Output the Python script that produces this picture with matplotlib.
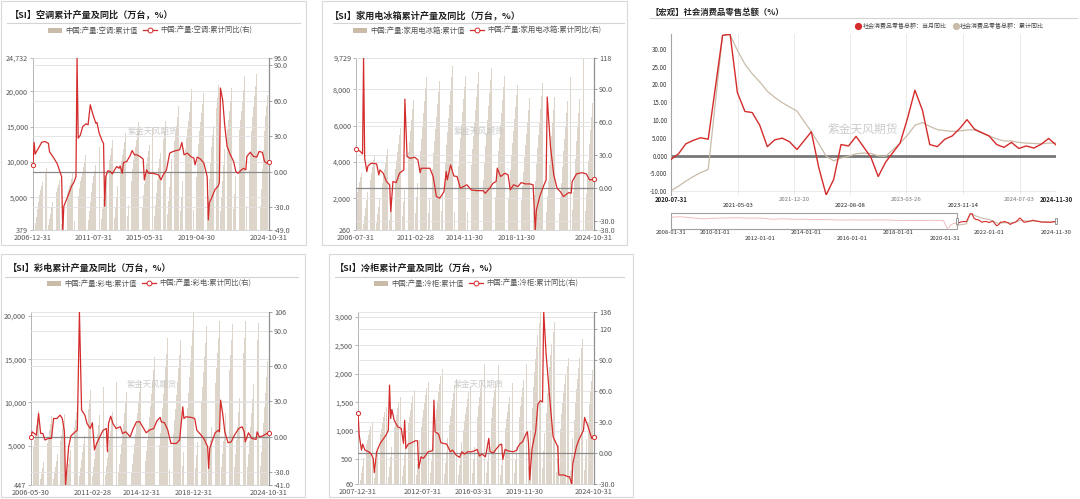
import numpy as np
import pandas as pd
import matplotlib
matplotlib.use("Agg")
import matplotlib.pyplot as plt
import matplotlib.dates as mdates
import matplotlib.transforms as mtransforms
from matplotlib.patches import Rectangle, Patch
from matplotlib.lines import Line2D

plt.rcParams['font.family'] = ['Noto Sans CJK SC', 'DejaVu Sans']
plt.rcParams['axes.unicode_minus'] = False

W, H = 1080, 499
RED = '#d42b2b'
BAR = '#ddd5ca'
BAR_LEG = '#c9bba8'
BEIGE = '#c9bca9'
GRID = '#e2e2e2'
TXT = '#555555'

# ---------------- data ----------------
MONTHS = list(range(2, 13))  # Feb..Dec (Jan merged into Feb)

# Panel 1: air conditioners
ac_years = list(range(2007, 2024))
ac_totals = [9130, 7470, 8420, 11020, 12200, 13150, 14100, 15600, 14800, 15750,
             17970, 20330, 21750, 20950, 20480, 22130, 24732]
ac_last_oct = 20950
ac_profile = [0.15, 0.25, 0.36, 0.47, 0.58, 0.66, 0.72, 0.78, 0.84, 0.91, 1.0]
ac_yoy_m = [0, 1, 2, 5, 8, 11, 14, 15, 19, 22, 26, 27, 28, 31, 35, 37, 39, 40, 41, 43,
            45, 48, 50, 52, 54, 57, 58, 60, 63, 64, 65, 66, 68, 70, 72, 74, 76, 78, 79, 81,
            82, 85, 88, 90, 92, 94, 97, 100, 101, 103, 105, 108, 111, 114, 116, 118, 121, 124, 127, 130,
            133, 135, 137, 140, 143, 146, 147, 149, 152, 155, 158, 159, 160, 162, 165, 168, 169, 170, 172, 174,
            176, 179, 182, 184, 186, 189, 191, 193, 194, 197, 200, 203, 205, 208, 210, 212, 214]
ac_yoy_v = [5.9, 24.8, 15, 20, 25, 25.6, 24, 17, 11.5, 6.8, -4, -49, -29, -22, -12, -9, -4, 96, 28.4, 31,
            38, 40.5, 39.7, 56.6, 49.5, 41, 41.7, 32.7, 25.6, 24, -29, -4, 1, 0.3, -1.7, 1.7, 4.5, 3, 5, -1.2,
            7.9, 8.7, 13.5, 18, 14.4, 14.4, 13, 10.7, -6.8, 1.7, -1.2, -1.2, -1.7, -2.6, -6.8, -2.6, 1.7, 15.8, 17.2, 18,
            18.6, 24.8, 14.4, 15.8, 13, 11.5, 6, 12.5, 10.7, 7.3, -4, -40.5, -26, -22, -15, -11.8, -9, 70.7, 60.8, 38.3,
            21.4, 14.4, 8.7, 0.3, -1.2, 1.7, 3, 1.7, 13, 16.5, 13, 12.5, 17.2, 16.5, 8.7, 7.3, 8]

# Panel 2: household refrigerators
fr_years = list(range(2006, 2024))
fr_totals = [3400, 4400, 4700, 5900, 7430, 8680, 8440, 9310, 8760, 8940, 9180, 8720,
             8260, 8075, 9000, 8940, 8680, 9729]
fr_last_oct = 8000
fr_profile = [0.14, 0.24, 0.33, 0.43, 0.53, 0.61, 0.69, 0.77, 0.85, 0.93, 1.0]
fr_yoy_m = [0, 4, 6, 7, 8, 10, 11, 14, 19, 21, 22, 25, 28, 31, 32, 34, 37, 40, 44, 45,
            47, 50, 54, 57, 59, 60, 63, 68, 71, 74, 77, 81, 83, 84, 87, 90, 93, 96, 102, 106,
            111, 117, 119, 123, 126, 129, 130, 133, 137, 140, 142, 145, 149, 152, 156, 160, 163, 165, 166, 169,
            173, 175, 176, 179, 182, 185, 188, 191, 194, 196, 198, 199, 203, 208, 212, 215, 219]
fr_yoy_v = [35.6, 33.2, 31, 118, 27, 15, 20, 22.6, 22, 12, 16.5, 13.5, 6, 3, -21.3, 6, 5, 13.5, 16.5, 80.7,
            28.6, 27, 28, 25.6, 14, 18, 18, 18, 10.5, -7.7, -9.2, -3.2, 15, 7.4, 21, 11, 10.5, -0.1, 3, -1.6,
            -2.3, -2.3, -4.7, -0.1, 4.4, 6, 18, 10.5, 13.5, 12, -1.6, 3, 1.4, 5, 3.8, 3.8, 3, -38, -20, -7.7,
            3, 7.4, 82.6, 37.7, 12, -0.1, -3.2, -7.7, -5.3, -4, -4.7, 6, 12.9, 14, 12.9, 7.4, 8]

# Panel 4: colour TV sets
tv_years = list(range(2006, 2024))
tv_totals = [9000, 8400, 8700, 9900, 11400, 11800, 12400, 13900, 13900, 15300, 17400, 17200,
             20465, 18800, 19400, 19100, 19400, 19200]
tv_last_oct = 16600
tv_profile = [0.13, 0.21, 0.29, 0.37, 0.46, 0.54, 0.63, 0.72, 0.81, 0.90, 1.0]
tv_yoy_m = [0, 1, 3, 5, 7, 9, 11, 13, 16, 19, 21, 24, 27, 29, 31, 32, 35, 37, 41, 43,
            45, 47, 50, 52, 55, 57, 59, 61, 64, 67, 70, 71, 72, 74, 76, 79, 83, 85, 88, 92,
            95, 98, 101, 104, 107, 110, 114, 117, 120, 121, 124, 127, 130, 135, 138, 141, 142, 144, 149, 152,
            154, 158, 161, 164, 165, 166, 171, 174, 175, 176, 178, 180, 183, 186, 189, 193, 196, 198, 199, 202,
            205, 209, 210, 212, 215, 219, 221]
tv_yoy_v = [0, 4.2, 2.8, 1.4, 19.8, 2.8, 2.8, -2.8, -1.4, -1.4, 15.5, 15.5, 18.4, 15.5, 4.2, -41, -8.5, 0.6, 4.2, 5.6,
            106, 22.6, 18.4, 11.3, 7, 11.9, -11.3, -5.7, 0, 5.6, 7, -12.7, 11.3, 17.5, 11.3, 7, 8.5, 2.8, 4.2, 0,
            7, 12.7, 12.7, 7.9, 3.4, 5.6, 7, 13.6, 16.4, 12.7, 11.9, 5.6, -5.7, -5.7, -2.8, 25.4, 15.5, 17, 16.4, 15.5,
            5.6, 1.4, -2.3, -8.5, -26.9, -9.9, 3.4, 5.6, 4.2, 31.1, 19.8, 4.2, -5.1, -4.3, 1.4, 7, 8.5, 4.2, -4.3, 3.4,
            -1.4, -2.3, 4.2, 0, 0.6, 2.8, 3.4]

# Panel 5: freezers
fz_years = list(range(2008, 2024))
fz_totals = [1155, 1420, 1600, 1710, 1860, 2090, 1915, 1780, 2180, 2150, 1830, 2180,
             3088, 2910, 2270, 2620]
fz_last_oct = 2240
fz_profile = [0.12, 0.22, 0.33, 0.45, 0.57, 0.66, 0.73, 0.80, 0.87, 0.94, 1.0]
fz_yoy_m = [0, 1, 3, 4, 6, 9, 11, 13, 14, 16, 19, 21, 24, 26, 27, 28, 29, 31, 34, 37,
            39, 40, 41, 43, 46, 49, 51, 52, 54, 56, 58, 60, 63, 64, 65, 66, 69, 71, 76, 79,
            81, 84, 87, 89, 91, 94, 97, 100, 102, 104, 106, 109, 110, 112, 113, 116, 118, 120, 121, 123,
            124, 126, 127, 129, 133, 136, 137, 139, 141, 144, 145, 146, 147, 149, 151, 152, 154, 156, 158, 159,
            161, 164, 167, 171, 172, 176, 180, 181, 183, 184, 187, 189, 193, 194, 197, 200, 202]
fz_yoy_v = [38.7, 17.2, 2.7, 8.5, 2.7, 1.1, -0.5, -5.3, -19, 1.1, 9.2, 12.4, 17.2, 22, 65.4, 33.2, 41.9, 31.6, 25.2, 23.6,
            9.2, 31.6, 4.3, 8.5, 9.8, 11.7, 11.7, -14.9, -3.7, -5.3, -2.1, 1.1, 1.8, 2.7, 50.9, 20.4, 18.2, 9.8, 8.5, 1.1,
            2.7, -2.1, -4.3, 1.1, -1.1, 1.1, 1.1, 2.1, 3.4, -3.0, -1.1, -3.7, 1.1, 14, 1.1, 0.2, 3.4, 6, 7.6, 8.5,
            -6.2, 3.4, 2.7, 1.8, 1.1, 2.7, 6, 9.2, 10.8, 18.8, 20.4, 9.2, -26, 4.3, 15.6, 20.4, 47, 50.3, 49.3, 136,
            95.9, 54.1, 15.6, 6, -21.3, -21.3, -23, -23, -30, -10.1, 6, 12.4, 22, 34.2, 25.2, 14, 15]

# Panel 3: retail sales of consumer goods (%)
rs_dates = ['2020-07', '2020-08', '2020-09', '2020-10', '2020-11', '2020-12',
            '2021-02', '2021-03', '2021-04', '2021-05', '2021-06', '2021-07', '2021-08', '2021-09', '2021-10', '2021-11', '2021-12',
            '2022-02', '2022-03', '2022-04', '2022-05', '2022-06', '2022-07', '2022-08', '2022-09', '2022-10', '2022-11', '2022-12',
            '2023-02', '2023-03', '2023-04', '2023-05', '2023-06', '2023-07', '2023-08', '2023-09', '2023-10', '2023-11', '2023-12',
            '2024-02', '2024-03', '2024-04', '2024-05', '2024-06', '2024-07', '2024-08', '2024-09', '2024-10', '2024-11']
rs_month = [-1.1, 0.5, 3.3, 4.3, 5.0, 4.6,
            33.8, 34.2, 17.7, 12.4, 12.1, 8.5, 2.5, 4.4, 4.9, 3.9, 1.7,
            6.7, -3.5, -11.1, -6.7, 3.1, 2.7, 5.4, 2.5, -0.5, -5.9, -1.8,
            3.5, 10.6, 18.4, 12.7, 3.1, 2.5, 4.6, 5.5, 7.6, 10.1, 7.4,
            5.5, 3.1, 2.3, 3.7, 2.0, 2.7, 2.1, 3.2, 4.8, 3.0]
rs_cum = [-9.9, -8.6, -7.2, -5.9, -4.8, -3.9,
          33.8, 33.9, 29.6, 25.7, 23.0, 20.7, 18.1, 16.4, 14.9, 13.7, 12.5,
          6.7, 3.3, -0.2, -1.5, -0.7, -0.2, 0.5, 0.7, 0.6, -0.1, -0.2,
          3.5, 5.8, 8.5, 9.3, 8.2, 7.3, 7.0, 6.8, 6.9, 7.2, 7.2,
          5.5, 4.7, 4.1, 4.1, 3.7, 3.5, 3.4, 3.3, 3.5, 3.5]
rs_hist_dates = ['2008-01', '2008-06', '2008-12', '2009-06', '2009-12', '2010-06', '2010-12', '2011-06', '2011-12',
                 '2012-06', '2012-12', '2013-06', '2013-12', '2014-06', '2014-12', '2015-06', '2015-12', '2016-06',
                 '2016-12', '2017-06', '2017-12', '2018-06', '2018-12', '2019-06', '2019-12', '2020-02', '2020-03',
                 '2020-04', '2020-05', '2020-06', '2020-07']
rs_hist_vals = [21.2, 23.0, 19.0, 15.0, 17.5, 18.3, 19.1, 17.7, 18.1, 13.7, 15.2, 13.3, 13.6, 12.4, 11.9, 10.6, 11.1,
                10.6, 10.9, 11.0, 9.4, 9.0, 8.2, 9.8, 8.0, -20.5, -15.8, -7.5, -2.8, -1.8, -1.1]
rs_xticks = ['2020-07-31', '2021-05-03', '2021-12-20', '2022-08-08', '2023-03-26', '2023-11-14', '2024-07-03', '2024-11-30']
rs_slider_ticks = ['2008-01-31', '2010-01-01', '2012-01-01', '2014-01-01', '2016-01-01', '2018-01-01',
                   '2020-01-31', '2022-01-01', '2024-11-30']

# ---------------- helpers ----------------
fig = plt.figure(figsize=(W / 100, H / 100), dpi=100)
fig.patch.set_facecolor('white')


def frac(l, t, r, b):
    return [l / W, 1 - b / H, (r - l) / W, (b - t) / H]


def fxy(x, y):
    return x / W, 1 - y / H


def month_end(y, m):
    return pd.Timestamp(year=y, month=m, day=1) + pd.offsets.MonthEnd(0)


def build_bars(years, totals, profile, first, last_year, last_cum, last_month=10):
    d, v = [], []
    start = pd.Timestamp(first)
    for y, t in zip(years, totals):
        for k, m in enumerate(MONTHS):
            de = month_end(y, m)
            if de >= start:
                d.append(de)
                v.append(t * profile[k])
    base = last_cum / profile[MONTHS.index(last_month)]
    for k, m in enumerate(MONTHS):
        if m <= last_month:
            d.append(month_end(last_year, m))
            v.append(base * profile[k])
    return d, v


def offs_to_dates(start, offs):
    s = pd.Timestamp(start)
    return [(s + pd.DateOffset(months=int(o))) + pd.offsets.MonthEnd(0) for o in offs]


def frame(l, t, r, b):
    fig.patches.append(Rectangle(fxy(l, b), (r - l) / W, (b - t) / H, transform=fig.transFigure,
                                 fill=False, edgecolor='#d9d9d9', lw=0.8))


def title(x, y, s, x0, x1, yl, size=6.6):
    fig.text(*fxy(x, y), s, fontsize=size, fontweight='bold', color='#222222', ha='left', va='center')
    fig.add_artist(Line2D([x0 / W, x1 / W], [1 - yl / H, 1 - yl / H], transform=fig.transFigure,
                          color='#d3d3d3', lw=0.8))


def watermark(x, y, size=6.0):
    fig.text(*fxy(x, y), '紫金天风期货', fontsize=size, color='#c4c4c4', ha='center', va='center',
             alpha=0.85, zorder=20)


def bar_line_panel(rect, bars, line, ylim_l, yt_l, yl_l, ylim_r, yt_r, yl_r, xr, xt, xl,
                   leg_xy, leg_labels):
    ax = fig.add_axes(frac(*rect))
    ax2 = ax.twinx()
    ax.bar(bars[0], bars[1], width=24, color=BAR, linewidth=0, zorder=1)
    for t in yt_l:
        ax.axhline(t, color=GRID, lw=0.6, zorder=2)
    for t in yt_r:
        if t == 0:
            ax2.axhline(0, color='#8a8a8a', lw=0.9, zorder=1)
        else:
            ax2.axhline(t, color=GRID, lw=0.6, zorder=1)
    ax2.plot(line[0], line[1], color=RED, lw=0.9, zorder=3)
    ax2.plot([line[0][0], line[0][-1]], [line[1][0], line[1][-1]], 'o', ms=3, mfc='white',
             mec=RED, mew=0.7, zorder=4, clip_on=False)
    ax.set_xlim(pd.Timestamp(xr[0]), pd.Timestamp(xr[1]))
    ax.set_ylim(*ylim_l)
    ax2.set_ylim(*ylim_r)
    ax.set_yticks(yt_l)
    ax.set_yticklabels(yl_l)
    ax2.set_yticks(yt_r)
    ax2.set_yticklabels(yl_r)
    ax.set_xticks([pd.Timestamp(d) for d in xt])
    ax.set_xticklabels(xl)
    for a in (ax, ax2):
        for s in a.spines.values():
            s.set_visible(False)
    ax.spines['left'].set_visible(True)
    ax.spines['left'].set_color('#b5b5b5')
    ax.spines['left'].set_linewidth(0.7)
    ax.spines['bottom'].set_visible(True)
    ax.spines['bottom'].set_color('#d0d0d0')
    ax.spines['bottom'].set_linewidth(0.6)
    ax2.spines['right'].set_visible(True)
    ax2.spines['right'].set_color('#909090')
    ax2.spines['right'].set_linewidth(0.9)
    ax.tick_params(axis='y', length=2.5, width=0.6, color='#aaaaaa', labelsize=5.2, labelcolor=TXT, pad=1)
    ax2.tick_params(axis='y', length=2.5, width=0.6, color='#909090', labelsize=5.2, labelcolor=TXT, pad=1)
    ax.tick_params(axis='x', length=0, labelsize=5.3, labelcolor=TXT, pad=3)
    handles = [Patch(facecolor=BAR_LEG, edgecolor='none'),
               Line2D([], [], color=RED, lw=0.9, marker='o', ms=3.5, mfc='white', mec=RED, mew=0.7)]
    fig.legend(handles, leg_labels, loc='center', bbox_to_anchor=fxy(*leg_xy), ncol=2, frameon=False,
               fontsize=5.3, handlelength=1.9, handleheight=0.7, handletextpad=0.4, columnspacing=0.8,
               labelcolor=TXT, borderpad=0, borderaxespad=0)
    return ax, ax2


# ---------------- panel frames & titles ----------------
frame(1, 1, 306, 245)
frame(322, 1, 627, 245)
frame(1, 254, 305, 497)
frame(329, 254, 633, 497)

title(10, 14, '【SI】空调累计产量及同比（万台，%）', 7, 300, 23)
title(330, 15, '【SI】家用电冰箱累计产量及同比（万台，%）', 333, 624, 23)
title(650, 12, '【宏观】社会消费品零售总额（%）', 650, 1077, 18, size=6.0)
title(8, 267, '【SI】彩电累计产量及同比（万台，%）', 5, 298, 277)
title(335, 267, '【SI】冷柜累计产量及同比（万台，%）', 335, 624, 277)

# ---------------- panel 1 ----------------
b1 = build_bars(ac_years, ac_totals, ac_profile, '2006-12-31', 2024, ac_last_oct)
l1 = (offs_to_dates('2006-12-31', ac_yoy_m), ac_yoy_v)
bar_line_panel((33, 58, 269, 230), b1, l1,
               (379, 24732), [379, 5000, 10000, 15000, 20000, 24732],
               ['379', '5,000', '10,000', '15,000', '20,000', '24,732'],
               (-49, 96), [-49, -30, 0, 30, 60, 90, 96],
               ['-49.0', '-30.0', '0.00', '30.0', '60.0', '90.0', '96.0'],
               ('2006-12-31', '2024-10-31'),
               ['2006-12-31', '2011-07-31', '2015-05-31', '2019-04-30', '2024-10-31'],
               ['2006-12-31', '2011-07-31', '2015-05-31', '2019-04-30', '2024-10-31'],
               (150, 31), ['中国:产量:空调:累计值', '中国:产量:空调:累计同比(右)'])
watermark(153, 131)

# ---------------- panel 2 ----------------
b2 = build_bars(fr_years, fr_totals, fr_profile, '2006-07-31', 2024, fr_last_oct)
l2 = (offs_to_dates('2006-07-31', fr_yoy_m), fr_yoy_v)
bar_line_panel((356, 58, 594, 230), b2, l2,
               (260, 9729), [260, 2000, 4000, 6000, 8000, 9729],
               ['260', '2,000', '4,000', '6,000', '8,000', '9,729'],
               (-38, 118), [-38, -30, 0, 30, 60, 90, 118],
               ['-38.0', '-30.0', '0.00', '30.0', '60.0', '90.0', '118'],
               ('2006-07-31', '2024-10-31'),
               ['2006-07-31', '2011-02-28', '2014-11-30', '2018-11-30', '2024-10-31'],
               ['2006-07-31', '2011-02-28', '2014-11-30', '2018-11-30', '2024-10-31'],
               (477, 31), ['中国:产量:家用电冰箱:累计值', '中国:产量:家用电冰箱:累计同比(右)'])
watermark(479, 131)

# ---------------- panel 4 ----------------
b4 = build_bars(tv_years, tv_totals, tv_profile, '2006-05-31', 2024, tv_last_oct)
l4 = (offs_to_dates('2006-05-31', tv_yoy_m), tv_yoy_v)
bar_line_panel((31, 312, 269, 485), b4, l4,
               (447, 20465), [447, 5000, 10000, 15000, 20000],
               ['447', '5,000', '10,000', '15,000', '20,000'],
               (-41, 106), [-41, -30, 0, 30, 60, 90, 106],
               ['-41.0', '-30.0', '0.00', '30.0', '60.0', '90.0', '106'],
               ('2006-05-31', '2024-10-31'),
               ['2006-05-31', '2011-02-28', '2014-12-31', '2018-12-31', '2024-10-31'],
               ['2006-05-30', '2011-02-28', '2014-12-31', '2018-12-31', '2024-10-31'],
               (149, 284), ['中国:产量:彩电:累计值', '中国:产量:彩电:累计同比(右)'])
watermark(152, 384)

# ---------------- panel 5 ----------------
b5 = build_bars(fz_years, fz_totals, fz_profile, '2007-12-31', 2024, fz_last_oct)
l5 = (offs_to_dates('2007-12-31', fz_yoy_m), fz_yoy_v)
bar_line_panel((358, 312, 594, 484), b5, l5,
               (60, 3088), [60, 500, 1000, 1500, 2000, 2500, 3000],
               ['60', '500', '1,000', '1,500', '2,000', '2,500', '3,000'],
               (-30, 136), [-30, 0, 30, 60, 90, 120, 136],
               ['-30.0', '0.00', '30.0', '60.0', '90.0', '120', '136'],
               ('2007-12-31', '2024-10-31'),
               ['2007-12-31', '2012-07-31', '2016-03-31', '2019-11-30', '2024-10-31'],
               ['2007-12-31', '2012-07-31', '2016-03-31', '2019-11-30', '2024-10-31'],
               (476, 284), ['中国:产量:冷柜:累计值', '中国:产量:冷柜:累计同比(右)'])
watermark(479, 384)

# ---------------- panel 3 ----------------
rs_d = [pd.Timestamp(d) + pd.offsets.MonthEnd(0) for d in rs_dates]
ax3 = fig.add_axes(frac(671, 34, 1056, 195))
x0, x1 = pd.Timestamp('2020-07-31'), pd.Timestamp('2024-11-30')
ax3.set_xlim(x0, x1)
ax3.set_ylim(-11.1, 34.2)
for d in rs_xticks:
    ax3.axvline(pd.Timestamp(d), color='#e6e6e6', lw=0.6, zorder=0)
ax3.axhline(-10, color='#e6e6e6', lw=0.6, zorder=0)
ax3.axhline(0, color='#777777', lw=2.0, zorder=1)
ax3.plot(rs_d, rs_cum, color=BEIGE, lw=0.9, zorder=2)
ax3.plot(rs_d, rs_month, color=RED, lw=1.0, zorder=3)
ax3.set_yticks([-10, -5, 0, 5, 10, 15, 20, 25, 30])
ax3.set_yticklabels(['-10.00', '-5.000', '0.000', '5.000', '10.00', '15.00', '20.00', '25.00', '30.00'])
ax3.set_xticks([])
for k, s in ax3.spines.items():
    s.set_visible(k == 'left')
ax3.spines['left'].set_color('#a5a5a5')
ax3.spines['left'].set_linewidth(0.8)
ax3.tick_params(axis='y', length=0, labelsize=4.4, labelcolor='#333333', pad=2.5)
bt = mtransforms.blended_transform_factory(ax3.transData, fig.transFigure)
rows = [1, 2, 1, 2, 1, 2, 1, 1]
for i, (d, r) in enumerate(zip(rs_xticks, rows)):
    ypx = 199 if r == 1 else 205
    bold = i in (0, len(rs_xticks) - 1)
    col = '#222222' if (bold or r == 2) else '#777777'
    ax3.text(pd.Timestamp(d), 1 - ypx / H, d, transform=bt, fontsize=4.3, ha='center', va='center',
             color=col, fontweight='bold' if bold else 'normal')
h3 = [Line2D([], [], ls='none', marker='o', ms=4.2, color=RED),
      Line2D([], [], ls='none', marker='o', ms=4.2, color=BEIGE)]
fig.legend(h3, ['社会消费品零售总额：当月同比', '社会消费品零售总额：累计同比'], loc='center',
           bbox_to_anchor=fxy(950, 26), ncol=2, frameon=False, fontsize=4.3, handlelength=0.8,
           handletextpad=0.3, columnspacing=1.2, labelcolor='#444444', borderpad=0, borderaxespad=0)
watermark(863, 129, size=8.5)

# slider
axs = fig.add_axes(frac(671, 213, 1056, 229))
sx0, sx1 = pd.Timestamp('2008-01-31'), pd.Timestamp('2024-11-30')
axs.set_xlim(sx0, sx1)
axs.set_ylim(-23, 37)
axs.axis('off')
hd = [pd.Timestamp(d) + pd.offsets.MonthEnd(0) for d in rs_hist_dates]
axs.plot(hd, rs_hist_vals, color='#efb4b4', lw=0.6)
axs.plot(rs_d, rs_cum, color=BEIGE, lw=0.8)
axs.plot(rs_d, rs_month, color=RED, lw=0.8)
n0, n1, n2 = mdates.date2num(sx0), mdates.date2num(x0), mdates.date2num(x1)
axs.add_patch(Rectangle((n0, 0), n1 - n0, 1, transform=axs.get_xaxis_transform(), fill=False,
                        ec='#a0a0a0', lw=0.8, clip_on=False))
for n in (n1, n2):
    axs.add_patch(Rectangle((n - 20, 0.3), 40, 0.4, transform=axs.get_xaxis_transform(),
                            fc='#f2f2f2', ec='#8a8a8a', lw=0.6, clip_on=False, zorder=5))
bts = mtransforms.blended_transform_factory(axs.transData, fig.transFigure)
srows = [1, 1, 2, 1, 2, 1, 2, 1, 1]
for d, r in zip(rs_slider_ticks, srows):
    ypx = 232 if r == 1 else 239
    axs.text(pd.Timestamp(d), 1 - ypx / H, d, transform=bts, fontsize=4.3, ha='center', va='center',
             color='#333333')

fig.savefig('out.png', dpi=100, facecolor='white')
